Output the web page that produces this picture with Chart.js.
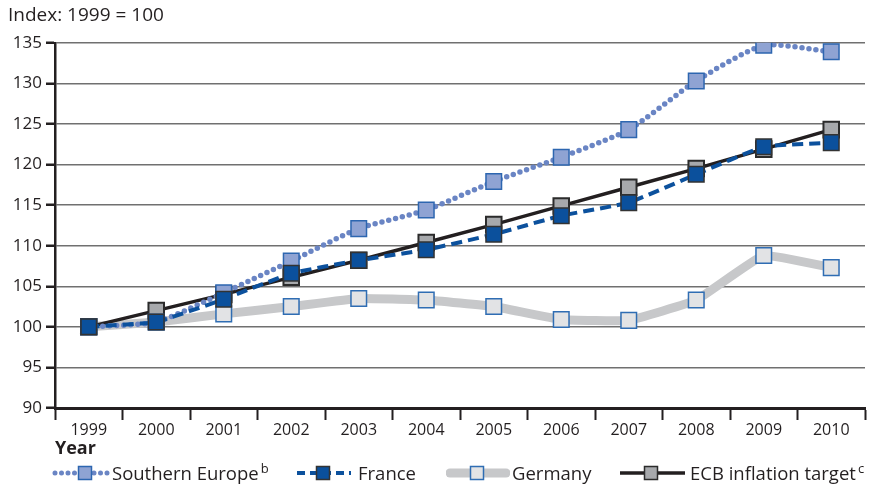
<!DOCTYPE html>
<html>
<head>
<meta charset="utf-8">
<script src="https://cdn.jsdelivr.net/npm/chart.js@4.4.0/dist/chart.umd.min.js"></script>
<style>
  body { margin: 0; background: #fff; }
  #wrap { position: relative; width: 870px; height: 487px; }
  #legend { position: absolute; left: 0; top: 460px; width: 870px; height: 26px;
            font-family: "Open Sans", sans-serif; font-size: 18.5px; color: #231f20; }
  .sample { position: absolute; top: 3px; }
  .label { position: absolute; top: 0; height: 26px; line-height: 26px; white-space: nowrap; }
  .label sup { font-size: 13px; vertical-align: 7px; line-height: 0; margin-left: 2px; }
</style>
</head>
<body>
<div id="wrap">
  <canvas id="myChart" width="870" height="487"></canvas>
  <div id="legend"></div>
</div>
<script>
var years = ['1999', '2000', '2001', '2002', '2003', '2004', '2005', '2006', '2007', '2008', '2009', '2010'];
var southernEurope = [100, 100.6, 104.2, 108.1, 112.1, 114.4, 117.9, 120.9, 124.3, 130.3, 134.7, 133.9];
var france = [100, 100.6, 103.4, 106.6, 108.2, 109.5, 111.4, 113.7, 115.3, 118.8, 122.2, 122.7];
var germany = [100, 100.6, 101.6, 102.5, 103.5, 103.3, 102.5, 100.9, 100.8, 103.3, 108.8, 107.3];
var ecbTarget = [100, 102.0, 104.0, 106.1, 108.2, 110.4, 112.6, 114.9, 117.2, 119.5, 121.9, 124.3];
var yTicks = [90, 95, 100, 105, 110, 115, 120, 125, 130, 135];

var FONT = '"Open Sans", sans-serif';
var INK = '#231f20';

var ctx = document.getElementById('myChart').getContext('2d');
var myChart = new Chart(ctx, {
    type: 'line',
    data: {
        labels: years,
        datasets: [{
            label: 'Southern Europe',
            data: southernEurope,
            borderColor: '#6a85c4',
            borderWidth: 5.5,
            borderDash: [0, 7],
            borderCapStyle: 'round',
            tension: 0.2,
            pointStyle: 'rect',
            pointRadius: 11,
            pointBackgroundColor: '#8fa3d3',
            pointBorderColor: '#2d66b0',
            pointBorderWidth: 1.5,
            order: 1
        }, {
            label: 'France',
            data: france,
            borderColor: '#0c519d',
            borderWidth: 4,
            borderDash: [11, 6],
            tension: 0.1,
            pointStyle: 'rect',
            pointRadius: 11,
            pointBackgroundColor: '#0b509c',
            pointBorderColor: '#333333',
            pointBorderWidth: 1.5,
            order: 0
        }, {
            label: 'Germany',
            data: germany,
            borderColor: '#c7c8ca',
            borderWidth: 9,
            tension: 0.1,
            pointStyle: 'rect',
            pointRadius: 11,
            pointBackgroundColor: '#e2e3e5',
            pointBorderColor: '#2f6db3',
            pointBorderWidth: 1.5,
            order: 3
        }, {
            label: 'ECB inflation target',
            data: ecbTarget,
            borderColor: INK,
            borderWidth: 3.5,
            tension: 0,
            pointStyle: 'rect',
            pointRadius: 11,
            pointBackgroundColor: '#a7a9ac',
            pointBorderColor: '#2b2b2b',
            pointBorderWidth: 2,
            order: 2
        }]
    },
    options: {
        responsive: false,
        animation: false,
        // autoPadding off, otherwise the big markers push the right edge in
        layout: { autoPadding: false, padding: { left: 8, right: 5, top: 0, bottom: 24 } },
        plugins: {
            legend: { display: false },
            tooltip: { enabled: false },
            title: {
                display: true,
                text: 'Index: 1999 = 100',
                align: 'start',
                color: INK,
                font: { family: FONT, size: 19, weight: 'normal' },
                padding: { top: 4, bottom: 16 }
            }
        },
        scales: {
            x: {
                offset: true,
                afterFit: function (s) {
                    s.height = 55;
                    s.paddingLeft = 0;
                    s.paddingRight = 0;
                },
                grid: {
                    offset: true,
                    drawOnChartArea: false,
                    drawTicks: true,
                    tickLength: 12,
                    tickColor: INK,
                    tickWidth: 2
                },
                border: { color: INK, width: 3 },
                ticks: { color: INK, font: { family: FONT, size: 16 }, padding: 1, maxRotation: 0 },
                title: {
                    display: true,
                    text: 'Year',
                    align: 'start',
                    color: INK,
                    font: { family: FONT, size: 18, weight: 'bold' },
                    padding: { top: 0, bottom: 3 }
                }
            },
            y: {
                min: 90,
                max: 135,
                afterFit: function (s) { s.width = 47; },
                afterBuildTicks: function (s) { s.ticks = yTicks.map(function (v) { return { value: v }; }); },
                grid: {
                    color: '#707070',
                    lineWidth: 1.5,
                    tickLength: 9,
                    tickColor: INK,
                    tickWidth: 2.5
                },
                border: { color: INK, width: 2.5 },
                ticks: { color: INK, font: { family: FONT, size: 17 }, padding: 4 }
            }
        }
    }
});

// legend, drawn as html so the line samples can carry the marker
var legendItems = [
    { x1: 55, x2: 108, box: 85, textLeft: 112, text: 'Southern Europe', sup: 'b', line: '#6a85c4', lw: 5, dash: '0 6.5', cap: 'round', fill: '#8fa3d3', stroke: '#2d66b0' },
    { x1: 297, x2: 351, box: 323, textLeft: 358, text: 'France', sup: '', line: '#0c519d', lw: 4, dash: '8 5', cap: 'butt', fill: '#0b509c', stroke: '#333333' },
    { x1: 450, x2: 506, box: 477, textLeft: 512, text: 'Germany', sup: '', line: '#c7c8ca', lw: 9, dash: '', cap: 'round', fill: '#e2e3e5', stroke: '#2f6db3' },
    { x1: 620, x2: 685, box: 651, textLeft: 690, text: 'ECB inflation target', sup: 'c', line: INK, lw: 3.5, dash: '', cap: 'butt', fill: '#a7a9ac', stroke: '#2b2b2b' }
];
var legend = document.getElementById('legend');
legendItems.forEach(function (it) {
    var w = it.x2 - it.x1 + 8;
    var bx = it.box - it.x1 + 4;
    var svg = '<svg class="sample" style="left:' + (it.x1 - 4) + 'px" width="' + w + '" height="20">' +
        '<line x1="4" y1="10" x2="' + (w - 4) + '" y2="10" stroke="' + it.line + '" stroke-width="' + it.lw + '"' +
        (it.dash ? ' stroke-dasharray="' + it.dash + '"' : '') + ' stroke-linecap="' + it.cap + '"/>' +
        '<rect x="' + (bx - 6.5) + '" y="3.5" width="13" height="13" fill="' + it.fill + '" stroke="' + it.stroke + '" stroke-width="1.5"/>' +
        '</svg>';
    var span = '<div class="label" style="left:' + it.textLeft + 'px">' + it.text +
        (it.sup ? '<sup>' + it.sup + '</sup>' : '') + '</div>';
    legend.insertAdjacentHTML('beforeend', svg + span);
});
</script>
</body>
</html>
